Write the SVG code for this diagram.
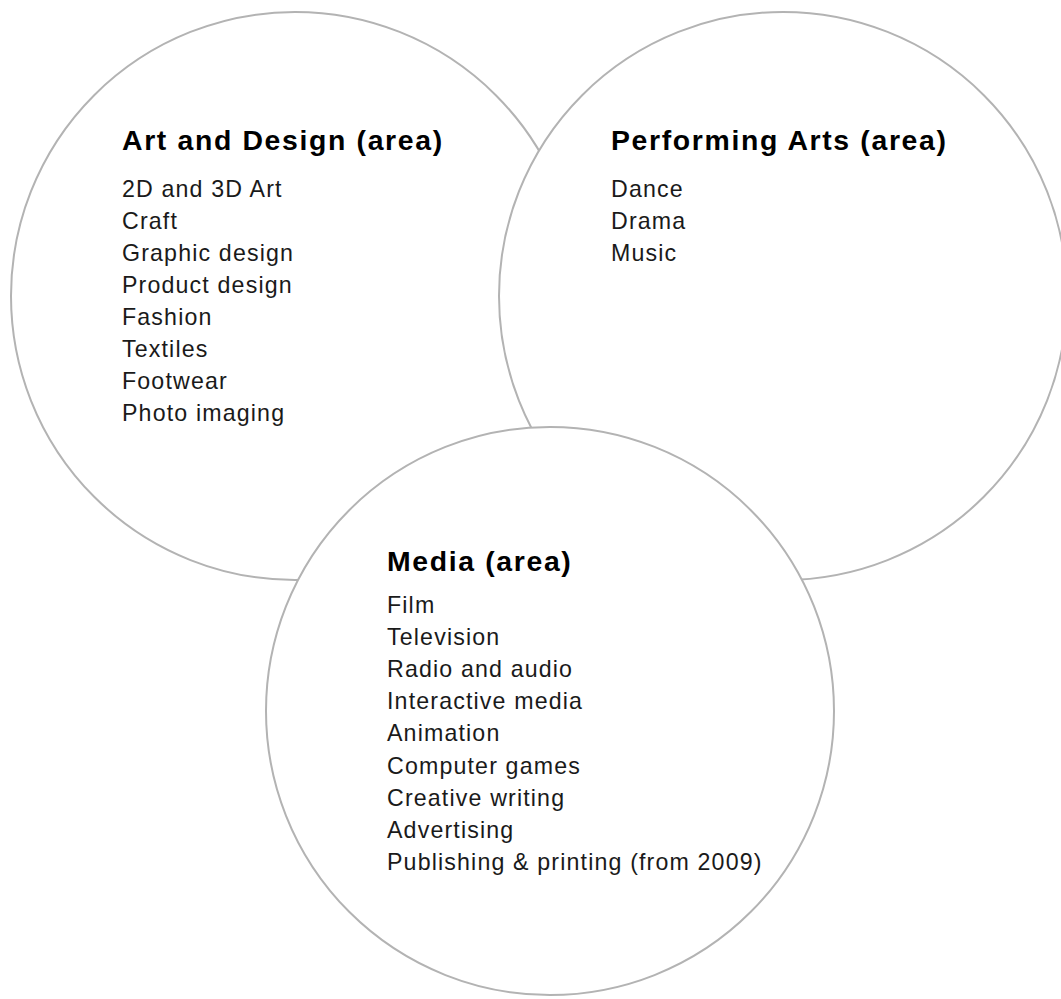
<svg xmlns="http://www.w3.org/2000/svg" width="1061" height="999" viewBox="0 0 1061 999">
<style>
.c{fill:#fff;stroke:#b3b3b3;stroke-width:2}
.h{font-family:"Liberation Sans",Arial,sans-serif;font-weight:bold;font-size:28.4px;letter-spacing:1.65px;fill:#000}
.t{font-family:"Liberation Sans",Arial,sans-serif;font-size:23.2px;letter-spacing:1.15px;fill:#1a1a1a}
</style>
<rect width="1061" height="999" fill="#fff"/>
<g id="art-design">
<circle class="c" cx="295" cy="296" r="284"/>
<text class="h" x="122" y="149.5">Art and Design (area)</text>
<text class="t" x="122" y="196.5">2D and 3D Art</text>
<text class="t" x="122" y="228.5">Craft</text>
<text class="t" x="122" y="260.6">Graphic design</text>
<text class="t" x="122" y="292.7">Product design</text>
<text class="t" x="122" y="324.8">Fashion</text>
<text class="t" x="122" y="356.8">Textiles</text>
<text class="t" x="122" y="388.9">Footwear</text>
<text class="t" x="122" y="421">Photo imaging</text>
</g>
<g id="performing-arts">
<circle class="c" cx="783" cy="296" r="284"/>
<text class="h" x="611" y="149.5">Performing Arts (area)</text>
<text class="t" x="611" y="196.5">Dance</text>
<text class="t" x="611" y="228.5">Drama</text>
<text class="t" x="611" y="260.6">Music</text>
</g>
<g id="media">
<circle class="c" cx="550" cy="711" r="284"/>
<text class="h" x="387" y="571">Media (area)</text>
<text class="t" x="387" y="613">Film</text>
<text class="t" x="387" y="645.1">Television</text>
<text class="t" x="387" y="677.2">Radio and audio</text>
<text class="t" x="387" y="709.3">Interactive media</text>
<text class="t" x="387" y="741.4">Animation</text>
<text class="t" x="387" y="773.5">Computer games</text>
<text class="t" x="387" y="805.6">Creative writing</text>
<text class="t" x="387" y="837.7">Advertising</text>
<text class="t" x="387" y="869.8">Publishing &amp; printing (from 2009)</text>
</g>
<g id="connectors"/>
</svg>
